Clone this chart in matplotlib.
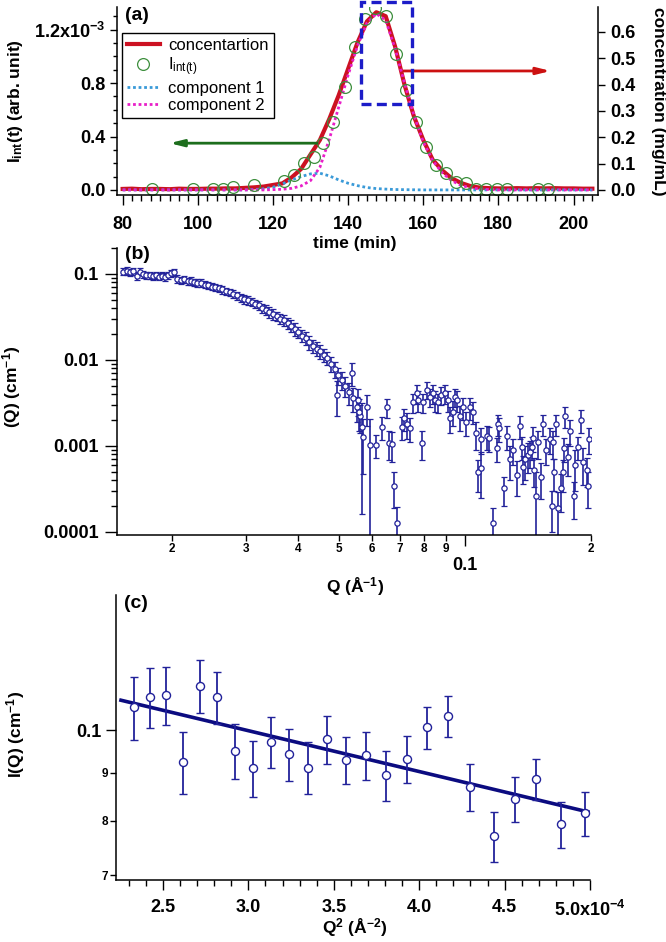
import matplotlib
matplotlib.use("Agg")
import matplotlib.pyplot as plt
from matplotlib.lines import Line2D
from matplotlib.patches import Rectangle
from matplotlib.ticker import FixedLocator, FixedFormatter, MultipleLocator, NullFormatter, LogLocator

plt.rcParams["font.family"] = ["Liberation Sans", "DejaVu Sans"]
plt.rcParams["mathtext.default"] = "regular"

# ---- panel (a): elution profile ----
t_grid = [80, 82.5, 85, 87.5, 90, 92.5, 95, 97.5, 100, 102.5, 105, 107.5, 110, 112.5,
          115, 117.5, 120, 122.5, 125, 127.5, 130, 132.5, 135, 137.5, 140, 142.5,
          145, 147.5, 150, 152.5, 155, 157.5, 160, 162.5, 165, 167.5, 170, 172.5,
          175, 177.5, 180, 182.5, 185, 187.5, 190, 192.5, 195, 197.5, 200, 202.5, 205]
conc = [0.004, 0.005, 0.003, 0.004, 0.004, 0.003, 0.005, 0.004, 0.004, 0.005, 0.005,
        0.006, 0.006, 0.008, 0.010, 0.013, 0.019, 0.025, 0.048, 0.080, 0.135, 0.190,
        0.270, 0.360, 0.460, 0.560, 0.640, 0.675, 0.660, 0.545, 0.400, 0.280, 0.190,
        0.115, 0.075, 0.045, 0.027, 0.015, 0.009, 0.007, 0.006, 0.006, 0.007, 0.006,
        0.007, 0.006, 0.007, 0.006, 0.006, 0.005, 0.005]
comp1 = [0, 0, 0, 0, 0, 0, 0, 0, 0, 0, 0, 0, 0, 0,
         0.003, 0.008, 0.020, 0.045, 0.075, 0.100, 0.120, 0.125, 0.105, 0.075, 0.050,
         0.032, 0.018, 0.010, 0.006, 0.003, 0.002, 0.001, 0, 0, 0, 0, 0, 0, 0, 0, 0,
         0, 0, 0, 0, 0, 0, 0, 0, 0, 0]
comp2 = [0, 0, 0, 0, 0, 0, 0, 0, 0, 0, 0, 0, 0, 0, 0, 0,
         0.002, 0.005, 0.012, 0.030, 0.070, 0.170, 0.380, 0.620, 0.860, 1.080, 1.250,
         1.320, 1.270, 1.060, 0.800, 0.560, 0.360, 0.220, 0.130, 0.070, 0.035, 0.016,
         0.007, 0.003, 0, 0, 0, 0, 0, 0, 0, 0, 0, 0, 0]
t_circ = [87.7, 98.7, 104.0, 106.7, 109.3, 114.9, 122.9, 125.6, 128.3, 130.9, 133.4,
          136.0, 139.2, 141.9, 144.5, 147.2, 150.1, 152.8, 155.5, 158.1, 160.8, 163.5,
          166.1, 168.8, 171.5, 174.1, 176.8, 179.5, 182.4, 190.4, 193.1]
i_circ = [0.005, 0.005, 0.005, 0.008, 0.025, 0.040, 0.070, 0.110, 0.200, 0.250, 0.350,
          0.510, 0.770, 1.070, 1.280, 1.360, 1.300, 1.020, 0.750, 0.510, 0.320, 0.190,
          0.130, 0.060, 0.050, 0.005, 0.010, 0.005, 0.005, 0.010, 0.005]

# ---- panel (b): I(Q) ----
q_b = [0.0153, 0.0156, 0.0159, 0.0162, 0.0165, 0.0168, 0.0171, 0.0174, 0.0177, 0.0180,
       0.0183, 0.0186, 0.0189, 0.0193, 0.0196, 0.0199, 0.0202, 0.0206, 0.0210, 0.0214,
       0.0218, 0.0222, 0.0226, 0.0230, 0.0235, 0.0240, 0.0244, 0.0249, 0.0254, 0.0259,
       0.0264, 0.0269, 0.0275, 0.0280, 0.0286, 0.0292, 0.0298, 0.0304, 0.0310, 0.0316,
       0.0322, 0.0329, 0.0335, 0.0342, 0.0349, 0.0356, 0.0363, 0.0370, 0.0378, 0.0385,
       0.0393, 0.0401, 0.0409, 0.0417, 0.0425, 0.0434, 0.0443, 0.0452, 0.0461, 0.0470,
       0.0479, 0.0489, 0.0499, 0.0509, 0.0519, 0.0530, 0.0541, 0.0552, 0.0563,
       0.0496, 0.0538, 0.0555, 0.0558, 0.0568, 0.0571, 0.0584, 0.0593, 0.0613, 0.0634,
       0.0652, 0.0659, 0.0670, 0.0677, 0.0688, 0.0707, 0.0715, 0.0727, 0.0739, 0.0751,
       0.0768, 0.0772, 0.0790, 0.0794, 0.0812, 0.0825, 0.0839, 0.0848, 0.0862, 0.0876,
       0.0896, 0.0911, 0.0921, 0.0936, 0.0947, 0.0957, 0.0973, 0.0989, 0.1006, 0.1028,
       0.1045, 0.1062, 0.1074, 0.1092, 0.1095, 0.1128, 0.1141, 0.1166, 0.1192, 0.1199,
       0.1205, 0.1239, 0.1259, 0.1280, 0.1302, 0.1330, 0.1353, 0.1367, 0.1375, 0.1390,
       0.1414, 0.1429, 0.1446, 0.1453, 0.1461, 0.1477, 0.1493, 0.1518, 0.1535, 0.1560,
       0.1595, 0.1621, 0.1617, 0.1630, 0.1648, 0.1666, 0.1693, 0.1712, 0.1721, 0.1731,
       0.1760, 0.1780, 0.1820, 0.1830, 0.1861, 0.1893, 0.1914, 0.1957, 0.1968, 0.1978]
i_b = [0.106, 0.108, 0.105, 0.107, 0.095, 0.106, 0.099, 0.096, 0.097, 0.094,
       0.096, 0.093, 0.095, 0.092, 0.096, 0.101, 0.104, 0.088, 0.085, 0.087,
       0.082, 0.083, 0.080, 0.079, 0.078, 0.075, 0.074, 0.071, 0.070, 0.068,
       0.066, 0.063, 0.061, 0.059, 0.056, 0.053, 0.051, 0.049, 0.047, 0.045,
       0.043, 0.040, 0.038, 0.036, 0.034, 0.032, 0.030, 0.029, 0.027, 0.025,
       0.023, 0.021, 0.019, 0.018, 0.016, 0.0145, 0.0135, 0.0125, 0.0115, 0.0105,
       0.0090, 0.0078, 0.0066, 0.0058, 0.0050, 0.0042, 0.0036, 0.0028, 0.0022,
       0.0039, 0.0071, 0.0034, 0.0025, 0.00166, 0.00127, 0.0028, 0.00102, 0.00102, 0.00166,
       0.0028, 0.00108, 0.00105, 0.00034, 0.000127, 0.00166, 0.0021, 0.0018, 0.0016, 0.0032,
       0.0041, 0.0034, 0.00108, 0.0032, 0.0045, 0.0037, 0.0041, 0.0034, 0.0032, 0.0039,
       0.0041, 0.0034, 0.0021, 0.0025, 0.0037, 0.0034, 0.0022, 0.0028, 0.0019, 0.0028,
       0.0025, 0.0014, 0.00049, 0.00055, 0.0012, 0.0013, 0.00125, 0.000127, 0.00095, 0.0018,
       0.0016, 0.00032, 0.0013, 0.0007, 0.0009, 0.00046, 0.0017, 0.00098, 0.00056, 0.0007,
       0.00078, 0.00085, 0.00098, 0.00125, 0.00053, 0.00026, 0.0011, 0.00044, 0.0018, 0.0009,
       0.0012, 0.0011, 0.0002, 0.0005, 0.0018, 0.00019, 0.00032, 0.00049, 0.00095, 0.0022,
       0.00075, 0.0015, 0.00026, 0.0006, 0.00098, 0.0020, 0.00065, 0.00053, 0.00034, 0.0012]
e_b = [0.010, 0.011, 0.010, 0.010, 0.011, 0.010, 0.009, 0.009, 0.009, 0.009,
       0.009, 0.009, 0.009, 0.009, 0.009, 0.010, 0.010, 0.009, 0.008, 0.008,
       0.008, 0.008, 0.008, 0.008, 0.008, 0.007, 0.007, 0.007, 0.007, 0.007,
       0.007, 0.006, 0.006, 0.006, 0.006, 0.006, 0.006, 0.006, 0.005, 0.005,
       0.005, 0.005, 0.005, 0.005, 0.005, 0.004, 0.004, 0.004, 0.004, 0.004,
       0.004, 0.003, 0.003, 0.003, 0.003, 0.0025, 0.0025, 0.0022, 0.002, 0.0018,
       0.0018, 0.0017, 0.0015, 0.0014, 0.0013, 0.0012, 0.0011, 0.0009, 0.0008,
       0.0017, 0.0022, 0.0012, 0.0010, 0.0015, 0.0008, 0.0011, 0.00101, 0.0003, 0.0005,
       0.0007, 0.0004, 0.0004, 0.00015, 0.00007, 0.0005, 0.0006, 0.0006, 0.0005, 0.0008,
       0.0010, 0.0009, 0.0004, 0.0008, 0.0010, 0.0009, 0.0010, 0.0009, 0.0008, 0.0009,
       0.0010, 0.0009, 0.0007, 0.0008, 0.0009, 0.0009, 0.0007, 0.0008, 0.0006, 0.0008,
       0.0007, 0.0005, 0.0002, 0.0003, 0.0004, 0.0004, 0.0004, 0.00006, 0.0003, 0.0005,
       0.0005, 0.00012, 0.0004, 0.0003, 0.0003, 0.0002, 0.0005, 0.0003, 0.0002, 0.0003,
       0.0003, 0.0003, 0.0003, 0.0004, 0.0002, 0.00024, 0.0004, 0.0002, 0.0005, 0.0003,
       0.0004, 0.0004, 0.0001, 0.0002, 0.0005, 0.0001, 0.00015, 0.0002, 0.0003, 0.0006,
       0.0003, 0.0005, 0.00012, 0.0003, 0.0003, 0.0006, 0.0003, 0.0002, 0.00015, 0.0004]

# ---- panel (c): Guinier plot ----
q2_c = [2.33, 2.426, 2.518, 2.615, 2.717, 2.816, 2.92, 3.027, 3.132, 3.24, 3.347, 3.46,
        3.571, 3.689, 3.806, 3.927, 4.044, 4.167, 4.30, 4.44, 4.56, 4.685, 4.83, 4.968]
i_c = [0.1058, 0.1085, 0.1090, 0.0925, 0.1115, 0.1084, 0.0950, 0.0911, 0.0972, 0.0943,
       0.0912, 0.0978, 0.0930, 0.0940, 0.0895, 0.0932, 0.1007, 0.1036, 0.0870, 0.0771,
       0.0844, 0.0887, 0.0794, 0.0815]
e_c = [0.0082, 0.0079, 0.0078, 0.0071, 0.0072, 0.0069, 0.0064, 0.0062, 0.0061, 0.0060,
       0.0058, 0.0058, 0.0054, 0.0056, 0.0054, 0.0053, 0.0052, 0.0052, 0.0050, 0.0047,
       0.0047, 0.0045, 0.0045, 0.0044]
fit_q2 = [2.254, 5.0]
fit_i = [0.1076, 0.0817]

RED = "#cc1122"
GREEN = "#3d8f3d"
BLUE_DOT = "#3a9ad8"
MAGENTA = "#e81fc8"
NAVY = "#22229a"
FIT = "#0b0b80"
TICK_FS = 13

fig = plt.figure(figsize=(6.66, 9.42), dpi=100)


def _style(ax):
    for side in ("top", "right"):
        ax.spines[side].set_visible(False)
    for side in ("left", "bottom"):
        ax.spines[side].set_linewidth(1.1)
    ax.tick_params(which="both", direction="out", width=1.0, labelsize=TICK_FS)
    ax.tick_params(which="major", length=5)
    ax.tick_params(which="minor", length=3)


def _xlabel(ax, text, x, y):
    ax.set_xlabel(text, fontsize=12.5, fontweight="bold")
    ax.xaxis.set_label_coords(x, y)
    ax.xaxis.label.set_va("center")


def _ylabel(ax, text, x, y, rot=90):
    ax.set_ylabel(text, fontsize=12.5, fontweight="bold", rotation=rot)
    ax.yaxis.set_label_coords(x, y)
    ax.yaxis.label.set_va("center")
    ax.yaxis.label.set_ha("center")


# ----- (a)
ax_a = fig.add_axes([0.1757, 0.7930, 0.7222, 0.1996])
ax_r = ax_a.twinx()
ax_a.set_zorder(ax_r.get_zorder() + 1)
ax_a.patch.set_visible(False)

ax_r.plot(t_grid, conc, color=RED, lw=3.0)
ax_a.plot(t_grid, comp1, color=BLUE_DOT, lw=2, ls=(0, (1, 1)))
ax_a.plot(t_grid, comp2, color=MAGENTA, lw=2, ls=(0, (1, 1)))
ax_a.plot(t_circ, i_circ, "o", mfc="none", mec=GREEN, ms=8.5, mew=0.9)

ax_a.set_xlim(78.5, 206.5)
ax_a.set_ylim(-0.038, 1.37)
ax_r.set_ylim(-0.019, 0.695)

ax_a.xaxis.set_major_locator(MultipleLocator(20))
ax_a.xaxis.set_minor_locator(MultipleLocator(2.5))
ax_a.yaxis.set_major_locator(FixedLocator([0, 0.4, 0.8, 1.2]))
ax_a.yaxis.set_major_formatter(FixedFormatter(["0.0", "0.4", "0.8", "1.2x10$^{-3}$"]))
ax_a.yaxis.set_minor_locator(MultipleLocator(0.1))
ax_r.set_yticks([0, 0.1, 0.2, 0.3, 0.4, 0.5, 0.6])
ax_r.set_yticklabels(["0.0", "0.1", "0.2", "0.3", "0.4", "0.5", "0.6"])

_style(ax_a)
ax_a.tick_params(axis="x", which="major", length=7, pad=8)
ax_a.tick_params(axis="x", which="minor", length=4)
ax_a.spines["right"].set_visible(False)
for side in ("top", "left", "bottom"):
    ax_r.spines[side].set_visible(False)
ax_r.spines["right"].set_linewidth(1.1)
ax_r.tick_params(direction="out", length=5, width=1.0, labelsize=TICK_FS)

_xlabel(ax_a, "time (min)", 0.495, -0.258)
_ylabel(ax_a, "I$_{int}$(t) (arb. unit)", -0.212, 0.5)
_ylabel(ax_r, "concentration (mg/mL)", 1.125, 0.5, rot=270)

# selection box and arrows
ax_a.add_patch(Rectangle((143.5, 0.64), 13.6, 0.77, fill=False, ec="#1c1cc8",
                         lw=2.4, ls=(0, (3, 1.6)), clip_on=False, zorder=5))
ax_a.annotate("", xy=(92.5, 0.35), xytext=(131.7, 0.35),
              arrowprops=dict(arrowstyle="-|>,head_length=0.8,head_width=0.2",
                              color="#1d6e1d", lw=2, shrinkA=0, shrinkB=0))
ax_r.annotate("", xy=(193.9, 0.452), xytext=(154.7, 0.452),
              arrowprops=dict(arrowstyle="-|>,head_length=0.8,head_width=0.2",
                              color="#cc1111", lw=2, shrinkA=0, shrinkB=0))

handles = [Line2D([], [], color=RED, lw=3.0),
           Line2D([], [], ls="none", marker="o", mfc="none", mec=GREEN, ms=8.5, mew=0.9),
           Line2D([], [], color=BLUE_DOT, lw=2, ls=(0, (1, 1))),
           Line2D([], [], color=MAGENTA, lw=2, ls=(0, (1, 1)))]
labels = ["concentartion", "I$_{int(t)}$", "component 1", "component 2"]
leg = ax_a.legend(handles, labels, loc="upper left", bbox_to_anchor=(0.01, 0.862),
                  fontsize=12, frameon=True, fancybox=False, framealpha=1,
                  edgecolor="black", handlelength=2.0, handletextpad=0.5,
                  labelspacing=0.15, borderpad=0.3, borderaxespad=0)
leg.get_frame().set_linewidth(1.0)
ax_a.text(0.017, 0.952, "(a)", transform=ax_a.transAxes, fontsize=14,
          fontweight="bold", va="center")

# ----- (b)
ax_b = fig.add_axes([0.1757, 0.4321, 0.7117, 0.3047])
ax_b.patch.set_visible(False)
ax_b.set_xscale("log")
ax_b.set_yscale("log")
ax_b.errorbar(q_b, i_b, yerr=e_b, fmt="o", ms=3.8, mfc="white", mec=NAVY, mew=0.9,
              ecolor=NAVY, elinewidth=1.2, capsize=2.3, capthick=1.2)
ax_b.set_xlim(0.0148, 0.2)
ax_b.set_ylim(9.2e-5, 0.2)
ax_b.yaxis.set_major_locator(FixedLocator([1e-4, 1e-3, 1e-2, 1e-1]))
ax_b.yaxis.set_major_formatter(FixedFormatter(["0.0001", "0.001", "0.01", "0.1"]))
ax_b.yaxis.set_minor_locator(LogLocator(base=10, subs=[2, 3, 4, 5, 6, 7, 8, 9]))
ax_b.yaxis.set_minor_formatter(NullFormatter())
ax_b.xaxis.set_major_locator(FixedLocator([0.1]))
ax_b.xaxis.set_major_formatter(FixedFormatter(["0.1"]))
ax_b.xaxis.set_minor_locator(FixedLocator([0.02, 0.03, 0.04, 0.05, 0.06, 0.07, 0.08, 0.09, 0.2]))
ax_b.xaxis.set_minor_formatter(FixedFormatter(["2", "3", "4", "5", "6", "7", "8", "9", "2"]))
_style(ax_b)
ax_b.tick_params(axis="y", which="major", length=9, pad=4)
ax_b.tick_params(axis="y", which="minor", length=4.5)
ax_b.tick_params(axis="x", which="minor", length=4, labelsize=8.5, pad=2)
ax_b.tick_params(axis="x", which="major", length=8, labelsize=TICK_FS, pad=8)
_xlabel(ax_b, "Q (Å$^{-1}$)", 0.502, -0.181)
_ylabel(ax_b, "(Q) (cm$^{-1}$)", -0.2215, 0.516)
ax_b.text(0.017, 0.976, "(b)", transform=ax_b.transAxes, fontsize=14,
          fontweight="bold", va="center")

# ----- (c)
ax_c = fig.add_axes([0.1742, 0.0658, 0.7117, 0.3025])
ax_c.patch.set_visible(False)
ax_c.set_yscale("log")
ax_c.errorbar(q2_c, i_c, yerr=e_c, fmt="o", ms=5.8, mfc="white", mec=NAVY, mew=1.0,
              ecolor=NAVY, elinewidth=1.3, capsize=3, capthick=1.3, zorder=3)
ax_c.plot(fit_q2, fit_i, color=FIT, lw=2.6, zorder=2)
ax_c.set_xlim(2.225, 5.0)
ax_c.set_ylim(0.0692, 0.1393)
ax_c.xaxis.set_major_locator(FixedLocator([2.5, 3.0, 3.5, 4.0, 4.5, 5.0]))
ax_c.xaxis.set_major_formatter(FixedFormatter(["2.5", "3.0", "3.5", "4.0", "4.5", "5.0x10$^{-4}$"]))
ax_c.xaxis.set_minor_locator(MultipleLocator(0.1))
ax_c.yaxis.set_major_locator(FixedLocator([0.1]))
ax_c.yaxis.set_major_formatter(FixedFormatter(["0.1"]))
ax_c.yaxis.set_minor_locator(FixedLocator([0.07, 0.08, 0.09]))
ax_c.yaxis.set_minor_formatter(FixedFormatter(["7", "8", "9"]))
_style(ax_c)
ax_c.tick_params(axis="y", which="major", length=7)
ax_c.tick_params(axis="y", which="minor", length=4, labelsize=8.5, pad=2)
ax_c.tick_params(axis="x", which="major", length=7, pad=7)
ax_c.tick_params(axis="x", which="minor", length=4)
_xlabel(ax_c, "Q$^{2}$ (Å$^{-2}$)", 0.504, -0.168)
_ylabel(ax_c, "I(Q) (cm$^{-1}$)", -0.211, 0.51)
ax_c.text(0.017, 0.97, "(c)", transform=ax_c.transAxes, fontsize=14,
          fontweight="bold", va="center")

for ax in (ax_a, ax_b, ax_c, ax_r):
    for lab in ax.get_xticklabels(which="both") + ax.get_yticklabels(which="both"):
        lab.set_fontweight("bold")

fig.savefig("out.png", dpi=100)
